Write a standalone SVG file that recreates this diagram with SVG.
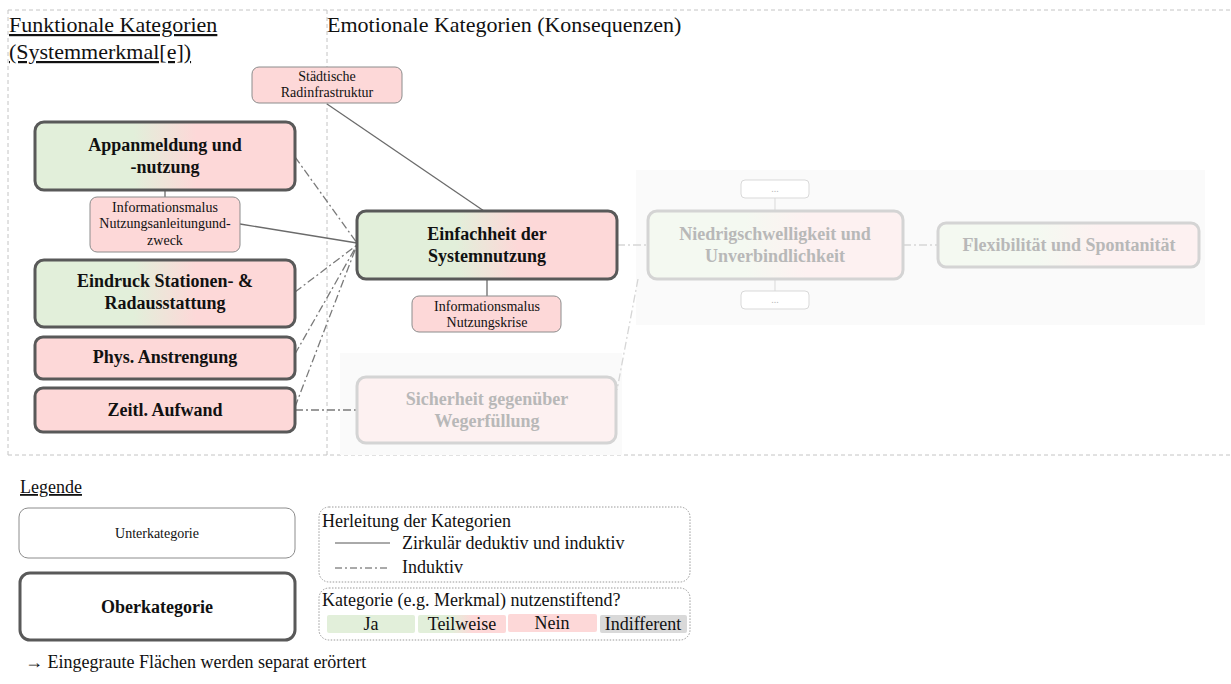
<svg xmlns="http://www.w3.org/2000/svg" width="1231" height="684" viewBox="0 0 1231 684">
  <defs>
    <linearGradient id="gPart" x1="0" y1="0" x2="1" y2="0">
      <stop offset="0.38" stop-color="#e2efda"/>
      <stop offset="0.62" stop-color="#fdd8d8"/>
    </linearGradient>
    <linearGradient id="gPartFaded" x1="0" y1="0" x2="1" y2="0">
      <stop offset="0.38" stop-color="#f4f9f1"/>
      <stop offset="0.62" stop-color="#fdf1f1"/>
    </linearGradient>
    <style>
      text { font-family: "Liberation Serif", "Times New Roman", serif; fill: #111; }
      .title { font-size: 22px; }
      .u { text-decoration: underline; }
      .main { stroke: #595959; stroke-width: 3; }
      .sub { stroke: #8c8c8c; stroke-width: 1; }
      .faded { stroke: #d4d4d4; stroke-width: 3; }
      .fadedSub { stroke: #d9d9d9; stroke-width: 1; fill: #ffffff; }
      .pink { fill: #fdd8d8; }
      .bold { font-size: 18px; font-weight: bold; text-anchor: middle; }
      .small { font-size: 14px; text-anchor: middle; }
      .fadedText { fill: #b8b8b8; }
      .frame { fill: none; stroke: #c4c4c4; stroke-width: 1; stroke-dasharray: 4 3; }
      .solid { fill: none; stroke: #6b6b6b; stroke-width: 1.3; }
      .dashdot { fill: none; stroke: #7a7a7a; stroke-width: 1.3; stroke-dasharray: 8 3 2 3; }
      .dashdotFaded { fill: none; stroke: #d6d6d6; stroke-width: 1.3; stroke-dasharray: 8 3 2 3; }
      .legbox { fill: #ffffff; stroke: #9a9a9a; stroke-width: 1; stroke-dasharray: 1.5 1.5; }
      .leg { font-size: 18px; }
    </style>
  </defs>

  <!-- section frames -->
  <g id="frames">
    <line class="frame" x1="8" y1="10" x2="1231" y2="10"/>
    <line class="frame" x1="8" y1="455" x2="1231" y2="455"/>
    <line class="frame" x1="8" y1="10" x2="8" y2="455"/>
    <line class="frame" x1="327" y1="10" x2="327" y2="455"/>
  </g>

  <!-- greyed-out areas -->
  <g id="grey-areas">
    <rect x="636" y="170" width="569" height="155" fill="#fafafa"/>
    <rect x="340" y="353" width="282" height="102" fill="#fafafa"/>
  </g>

  <!-- section headings -->
  <g id="headings">
    <text class="title u" x="9" y="32">Funktionale Kategorien</text>
    <text class="title u" x="9" y="59">(Systemmerkmal[e])</text>
    <text class="title" x="327" y="32">Emotionale Kategorien (Konsequenzen)</text>
  </g>

  <!-- connectors -->
  <g id="connectors">
    <line class="solid" x1="165" y1="190" x2="165" y2="197"/>
    <line class="solid" x1="487" y1="279" x2="487" y2="296"/>
    <line class="solid" x1="327" y1="104" x2="484" y2="211"/>
    <line class="solid" x1="240" y1="224" x2="357" y2="243"/>
    <line class="dashdot" x1="295" y1="157" x2="357" y2="243"/>
    <line class="dashdot" x1="295" y1="292" x2="357" y2="245"/>
    <line class="dashdot" x1="295" y1="354" x2="357" y2="245"/>
    <line class="dashdot" x1="295" y1="407" x2="357" y2="245"/>
    <line class="dashdot" x1="295" y1="410" x2="357" y2="410" stroke="#8a8a8a"/>
    <line class="dashdotFaded" x1="617" y1="245" x2="648" y2="245"/>
    <line class="dashdotFaded" x1="903" y1="245" x2="938" y2="245"/>
    <line class="dashdotFaded" x1="638" y1="279" x2="617" y2="390"/>
    <line class="fadedSub" x1="775" y1="198" x2="775" y2="211"/>
    <line class="fadedSub" x1="775" y1="279" x2="775" y2="291"/>
  </g>

  <!-- functional categories -->
  <g id="node-appanmeldung">
    <rect class="main" x="35" y="122" width="260" height="68" rx="9" fill="url(#gPart)"/>
    <text class="bold" x="165" y="151">Appanmeldung und</text>
    <text class="bold" x="165" y="173">-nutzung</text>
  </g>
  <g id="node-info-anleitung">
    <rect class="sub pink" x="90" y="197" width="150" height="55" rx="7"/>
    <text class="small" x="165" y="212">Informationsmalus</text>
    <text class="small" x="165" y="228">Nutzungsanleitungund-</text>
    <text class="small" x="165" y="245">zweck</text>
  </g>
  <g id="node-eindruck">
    <rect class="main" x="35" y="260" width="260" height="67" rx="9" fill="url(#gPart)"/>
    <text class="bold" x="165" y="287">Eindruck Stationen- &amp;</text>
    <text class="bold" x="165" y="309">Radausstattung</text>
  </g>
  <g id="node-phys">
    <rect class="main pink" x="35" y="337" width="260" height="42" rx="8"/>
    <text class="bold" x="165" y="363">Phys. Anstrengung</text>
  </g>
  <g id="node-zeitl">
    <rect class="main pink" x="35" y="388" width="260" height="44" rx="8"/>
    <text class="bold" x="165" y="416">Zeitl. Aufwand</text>
  </g>

  <!-- emotional categories -->
  <g id="node-radinfrastruktur">
    <rect class="sub pink" x="252" y="67" width="150" height="36" rx="7"/>
    <text class="small" x="327" y="81">Städtische</text>
    <text class="small" x="327" y="97">Radinfrastruktur</text>
  </g>
  <g id="node-einfachheit">
    <rect class="main" x="357" y="211" width="260" height="68" rx="9" fill="url(#gPart)"/>
    <text class="bold" x="487" y="240">Einfachheit der</text>
    <text class="bold" x="487" y="262">Systemnutzung</text>
  </g>
  <g id="node-info-krise">
    <rect class="sub pink" x="412" y="296" width="149" height="36" rx="7"/>
    <text class="small" x="487" y="311">Informationsmalus</text>
    <text class="small" x="487" y="327">Nutzungskrise</text>
  </g>
  <g id="node-sicherheit">
    <rect class="faded" x="357" y="377" width="259" height="66" rx="9" fill="#fdf1f1"/>
    <text class="bold fadedText" x="487" y="405">Sicherheit gegenüber</text>
    <text class="bold fadedText" x="487" y="427">Wegerfüllung</text>
  </g>
  <g id="node-niedrigschwelligkeit">
    <rect class="faded" x="648" y="211" width="255" height="68" rx="9" fill="url(#gPartFaded)"/>
    <text class="bold fadedText" x="775" y="240">Niedrigschwelligkeit und</text>
    <text class="bold fadedText" x="775" y="262">Unverbindlichkeit</text>
  </g>
  <g id="node-more-top">
    <rect class="fadedSub" x="741" y="180" width="68" height="18" rx="4"/>
    <text x="775" y="192" font-size="10" text-anchor="middle" class="fadedText">...</text>
  </g>
  <g id="node-more-bottom">
    <rect class="fadedSub" x="741" y="291" width="68" height="18" rx="4"/>
    <text x="775" y="303" font-size="10" text-anchor="middle" class="fadedText">...</text>
  </g>
  <g id="node-flexibilitaet">
    <rect class="faded" x="938" y="223" width="261" height="44" rx="8" fill="url(#gPartFaded)"/>
    <text class="bold fadedText" x="1069" y="251">Flexibilität und Spontanität</text>
  </g>

  <!-- legend -->
  <g id="legend">
    <text class="leg u" x="20" y="493">Legende</text>
    <rect x="19" y="508" width="276" height="50" rx="9" fill="#ffffff" stroke="#8c8c8c" stroke-width="1"/>
    <text x="157" y="538" font-size="14" text-anchor="middle">Unterkategorie</text>
    <rect x="20" y="573" width="275" height="67" rx="10" fill="#ffffff" stroke="#595959" stroke-width="3"/>
    <text x="157" y="613" font-size="18" font-weight="bold" text-anchor="middle">Oberkategorie</text>

    <rect class="legbox" x="319" y="507" width="371" height="75" rx="10"/>
    <text class="leg" x="322" y="527">Herleitung der Kategorien</text>
    <line x1="335" y1="543" x2="390" y2="543" stroke="#555" stroke-width="1"/>
    <text class="leg" x="402" y="549">Zirkulär deduktiv und induktiv</text>
    <line x1="335" y1="568" x2="390" y2="568" stroke="#555" stroke-width="1" stroke-dasharray="7 3 2 3"/>
    <text class="leg" x="402" y="573">Induktiv</text>

    <rect class="legbox" x="319" y="588" width="371" height="52" rx="10"/>
    <text class="leg" x="322" y="606">Kategorie (e.g. Merkmal) nutzenstiftend?</text>
    <rect x="327" y="615" width="88" height="18" rx="2" fill="#e2efda"/>
    <rect x="418" y="615" width="88" height="18" rx="2" fill="url(#gPart)"/>
    <rect x="508" y="614" width="89" height="18" rx="2" fill="#fdd8d8"/>
    <rect x="600" y="615" width="87" height="18" rx="2" fill="#d9d9d9"/>
    <text class="leg" x="371" y="630" text-anchor="middle">Ja</text>
    <text class="leg" x="462" y="630" text-anchor="middle">Teilweise</text>
    <text class="leg" x="552" y="629" text-anchor="middle">Nein</text>
    <text class="leg" x="643" y="630" text-anchor="middle">Indifferent</text>
  </g>

  <g id="note">
    <text x="25" y="668" font-size="18">→ Eingegraute Flächen werden separat erörtert</text>
  </g>
</svg>
